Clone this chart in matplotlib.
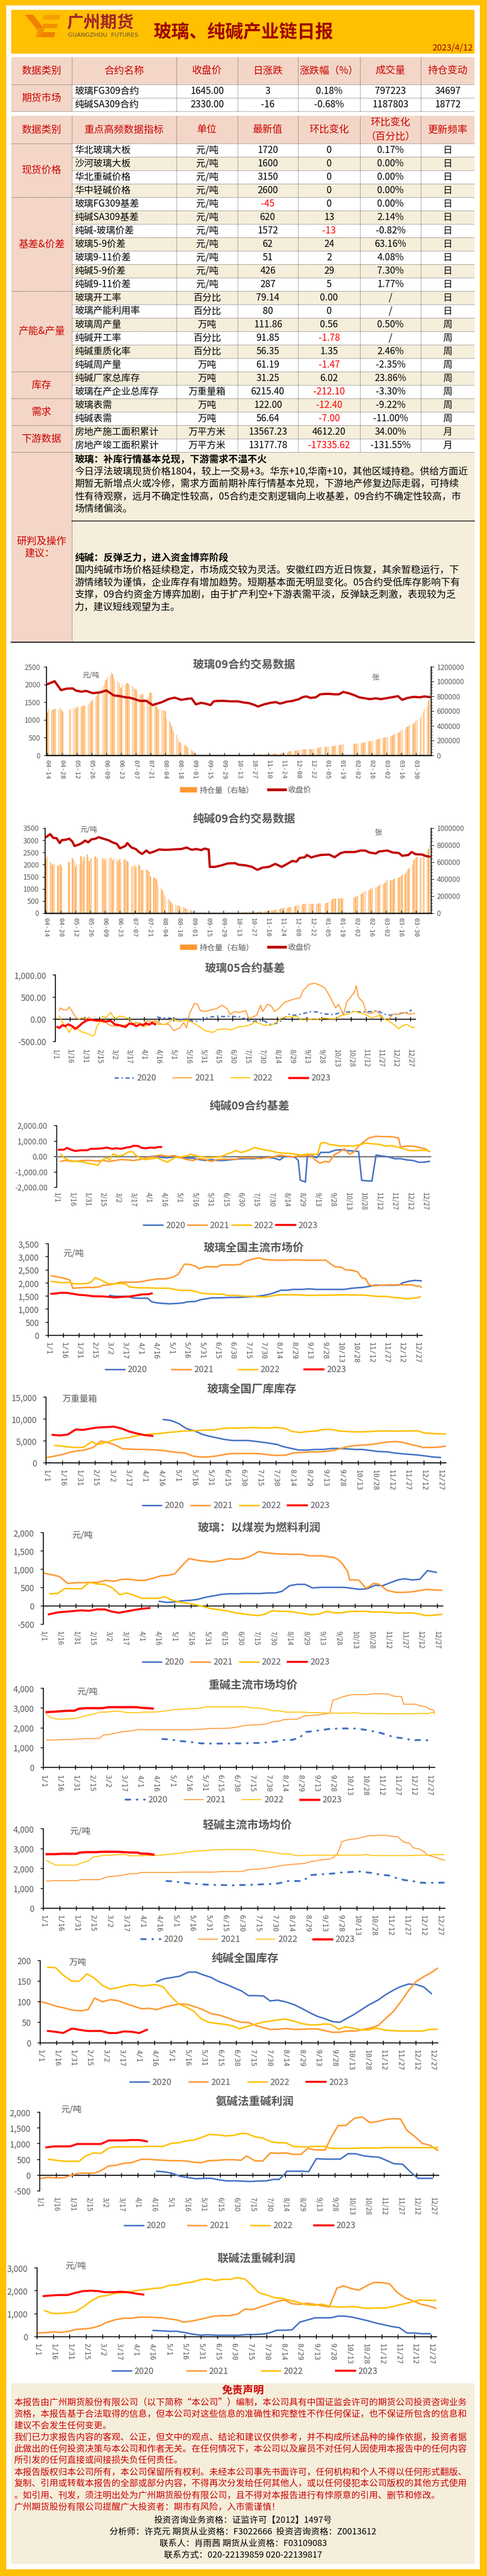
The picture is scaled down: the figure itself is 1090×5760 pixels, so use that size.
#coding:utf-8
# Glass / soda ash daily report page: header, two tables, commentary, twelve charts, disclaimer.

import numpy as np
import pandas as pd
import matplotlib
matplotlib.use('Agg')
import matplotlib.pyplot as plt
from matplotlib.patches import Rectangle, Polygon, Patch
from matplotlib.lines import Line2D
from matplotlib.ticker import FuncFormatter, MultipleLocator

plt.rcParams['font.family'] = ['Noto Sans CJK SC', 'DejaVu Sans']
plt.rcParams['axes.unicode_minus'] = False

W, H = 1090, 5760

# ---------------- colours
YELLOW = '#FFC000'
BEIGE = '#F5EEDB'
PINK = '#F3D6C7'
HEAD_RED = '#CC0000'
NEG_RED = '#FF0000'
GRAY = '#595959'
BLUE = '#4472C4'
ORANGE = '#FF9933'
GOLD = '#FFC000'
RED = '#FF0000'
DARKRED = '#C00000'

# ---------------- header / tables
REPORT_TITLE = '玻璃、纯碱产业链日报'
REPORT_DATE = '2023/4/12'

T1_HEAD = ['数据类别', '合约名称', '收盘价', '日涨跌', '涨跌幅（%）', '成交量', '持仓变动']
T1_CAT = '期货市场'
T1_ROWS = [['玻璃FG309合约', '1645.00', '3', '0.18%', '797223', '34697'],
           ['纯碱SA309合约', '2330.00', '-16', '-0.68%', '1187803', '18772']]

T2_HEAD = ['数据类别', '重点高频数据指标', '单位', '最新值', '环比变化', '环比变化\n（百分比）', '更新频率']
T2_CATS = [('现货价格', 4), ('基差&价差', 7), ('产能&产量', 6), ('库存', 2), ('需求', 2), ('下游数据', 2)]
T2_ROWS = [
    ['华北玻璃大板', '元/吨', '1720', '0', '0.17%', '日'],
    ['沙河玻璃大板', '元/吨', '1600', '0', '0.00%', '日'],
    ['华北重碱价格', '元/吨', '3150', '0', '0.00%', '日'],
    ['华中轻碱价格', '元/吨', '2600', '0', '0.00%', '日'],
    ['玻璃FG309基差', '元/吨', '-45', '0', '0.00%', '日'],
    ['纯碱SA309基差', '元/吨', '620', '13', '2.14%', '日'],
    ['纯碱-玻璃价差', '元/吨', '1572', '-13', '-0.82%', '日'],
    ['玻璃5-9价差', '元/吨', '62', '24', '63.16%', '日'],
    ['玻璃9-11价差', '元/吨', '51', '2', '4.08%', '日'],
    ['纯碱5-9价差', '元/吨', '426', '29', '7.30%', '日'],
    ['纯碱9-11价差', '元/吨', '287', '5', '1.77%', '日'],
    ['玻璃开工率', '百分比', '79.14', '0.00', '/', '日'],
    ['玻璃产能利用率', '百分比', '80', '0', '/', '日'],
    ['玻璃周产量', '万吨', '111.86', '0.56', '0.50%', '周'],
    ['纯碱开工率', '百分比', '91.85', '-1.78', '/', '周'],
    ['纯碱重质化率', '百分比', '56.35', '1.35', '2.46%', '周'],
    ['纯碱周产量', '万吨', '61.19', '-1.47', '-2.35%', '周'],
    ['纯碱厂家总库存', '万吨', '31.25', '6.02', '23.86%', '周'],
    ['玻璃在产企业总库存', '万重量箱', '6215.40', '-212.10', '-3.30%', '周'],
    ['玻璃表需', '万吨', '122.00', '-12.40', '-9.22%', '周'],
    ['纯碱表需', '万吨', '56.64', '-7.00', '-11.00%', '周'],
    ['房地产施工面积累计', '万平方米', '13567.23', '4612.20', '34.00%', '月'],
    ['房地产竣工面积累计', '万平方米', '13177.78', '-17335.62', '-131.55%', '月'],
]

GLASS_TITLE = '玻璃：补库行情基本兑现，下游需求不温不火'
GLASS_LINES = ['今日浮法玻璃现货价格1804，较上一交易+3。华东+10,华南+10，其他区域持稳。供给方面近',
               '期暂无新增点火或冷修，需求方面前期补库行情基本兑现，下游地产修复边际走弱，可持续',
               '性有待观察，远月不确定性较高，05合约走交割逻辑向上收基差，09合约不确定性较高，市',
               '场情绪偏淡。']
SODA_TITLE = '纯碱：反弹乏力，进入资金博弈阶段'
SODA_LINES = ['国内纯碱市场价格延续稳定，市场成交较为灵活。安徽红四方近日恢复，其余暂稳运行，下',
              '游情绪较为谨慎，企业库存有增加趋势。短期基本面无明显变化。05合约受低库存影响下有',
              '支撑，09合约资金方博弈加剧，由于扩产利空+下游表需平淡，反弹缺乏刺激，表现较为乏',
              '力，建议短线观望为主。']

DISCLAIMER = ['本报告由广州期货股份有限公司（以下简称“本公司”）编制，本公司具有中国证监会许可的期货公司投资咨询业务',
              '资格，本报告基于合法取得的信息，但本公司对这些信息的准确性和完整性不作任何保证，也不保证所包含的信息和',
              '建议不会发生任何变更。',
              '我们已力求报告内容的客观、公正，但文中的观点、结论和建议仅供参考，并不构成所述品种的操作依据，投资者据',
              '此做出的任何投资决策与本公司和作者无关。在任何情况下，本公司以及雇员不对任何人因使用本报告中的任何内容',
              '所引发的任何直接或间接损失负任何责任。',
              '本报告版权归本公司所有，本公司保留所有权利。未经本公司事先书面许可，任何机构和个人不得以任何形式翻版、',
              '复制、引用或转载本报告的全部或部分内容，不得再次分发给任何其他人，或以任何侵犯本公司版权的其他方式使用',
              '。如引用、刊发，须注明出处为广州期货股份有限公司，且不得对本报告进行有悖原意的引用、删节和修改。',
              '广州期货股份有限公司提醒广大投资者：期市有风险，入市需谨慎！']
FOOTER = ['投资咨询业务资格：证监许可【2012】1497号',
          '分析师：许克元 期货从业资格：F3022666  投资咨询资格：Z0013612',
          '联系人：肖雨茜 期货从业资格：F03109083',
          '联系方式：020-22139859 020-22139817']

# ---------------- 09 contract charts (x = days after 2022-04-14)
BASE = pd.Timestamp('2022-04-14')
HOLIDAYS = pd.to_datetime(['2022-05-02', '2022-05-03', '2022-05-04', '2022-06-03', '2022-09-12',
                           '2022-10-03', '2022-10-04', '2022-10-05', '2022-10-06', '2022-10-07',
                           '2023-01-02', '2023-01-23', '2023-01-24', '2023-01-25', '2023-01-26',
                           '2023-01-27', '2023-04-05'])
MONTHS = ['2022-04', '2022-05', '2022-06', '2022-07', '2022-08', '2022-09', '2022-10',
          '2022-11', '2022-12', '2023-01', '2023-02', '2023-03', '2023-04']

GLASS09_PRICE = [(0, 2008), (7, 2092), (13, 1840), (18, 1882), (24, 1891), (27, 1832), (32, 1798), (37, 1819),
                 (43, 1756), (50, 1777), (56, 1832), (60, 1756), (63, 1693), (69, 1672), (74, 1639), (78, 1630),
                 (82, 1597), (88, 1538), (94, 1538), (100, 1420), (109, 1504), (115, 1588), (121, 1630),
                 (127, 1567), (133, 1597), (137, 1609), (141, 1441), (146, 1483), (150, 1462), (155, 1420),
                 (158, 1525), (162, 1538), (168, 1538), (174, 1525), (181, 1525), (186, 1496), (192, 1471),
                 (197, 1420), (200, 1378), (206, 1441), (212, 1483), (217, 1504), (221, 1462), (224, 1483),
                 (227, 1513), (233, 1538), (239, 1588), (242, 1639), (246, 1664), (250, 1622), (255, 1639),
                 (259, 1723), (264, 1735), (268, 1735), (273, 1723), (277, 1723), (281, 1790), (286, 1756),
                 (292, 1693), (296, 1639), (302, 1609), (306, 1588), (312, 1609), (317, 1588), (321, 1609),
                 (327, 1639), (333, 1672), (337, 1567), (342, 1622), (348, 1651), (354, 1639), (358, 1664),
                 (363, 1645)]
# open interest, thousand lots, one value per trading day, one row per month
GLASS09_OI = [
    [581, 631, 611, 617, 625, 629, 629, 625, 641, 621, 605, 585],
    [621, 631, 640, 625, 660, 640, 665, 662, 668, 672, 676, 672, 682, 700, 730, 742, 760, 793, 803],
    [863, 873, 934, 964, 1014, 1024, 1065, 1085, 1129, 1095, 1049, 1014, 1004, 984, 934, 914, 964, 954, 974, 980, 964],
    [964, 944, 924, 903, 893, 883, 833, 803, 833, 823, 772, 772, 803, 843, 853, 843, 722, 682, 662, 631, 625],
    [621, 611, 601, 601, 500, 470, 440, 399, 349, 319, 278, 218, 177, 182, 147, 137, 133, 127, 107, 97, 77, 56, 36],
    [32, 20, 10, 6, 4, 3, 2, 2, 1, 1, 1, 1, 1, 1, 1, 1, 1, 1, 1, 1, 1],
    [0, 0, 0, 0, 0, 0, 0, 0, 0, 1, 2, 6, 12, 12, 13, 14],
    [15, 15, 16, 17, 18, 18, 19, 20, 20, 21, 22, 23, 24, 24, 25, 26, 30, 34, 38, 45, 52, 56],
    [56, 58, 62, 65, 68, 72, 75, 78, 80, 80, 82, 82, 82, 82, 84, 86, 90, 95, 100, 105, 110, 113],
    [113, 116, 118, 120, 121, 125, 128, 130, 133, 138, 140, 143, 147, 151, 153, 157],
    [158, 160, 162, 166, 170, 172, 175, 178, 185, 190, 195, 200, 203, 208, 212, 218, 222, 228, 235, 240],
    [244, 248, 255, 262, 268, 274, 280, 288, 296, 310, 319, 333, 349, 360, 379, 390, 399, 410, 420, 430, 440, 470, 480],
    [500, 531, 580, 630, 661, 742, 853],
]

SODA09_PRICE = [(0, 3133), (4, 3256), (7, 3103), (10, 3091), (13, 2889), (15, 3011), (19, 3029), (22, 3072),
                (25, 2950), (27, 2766), (31, 2827), (34, 2889), (37, 2993), (40, 2919), (43, 3042), (47, 3072),
                (50, 3133), (54, 3072), (59, 3011), (63, 2919), (67, 2858), (70, 2674), (75, 2766), (77, 2889),
                (81, 2705), (85, 2644), (88, 2521), (91, 2442), (95, 2583), (98, 2479), (103, 2552), (107, 2625),
                (111, 2613), (116, 2613), (122, 2632), (128, 2644), (133, 2705), (138, 2613), (142, 2644),
                (147, 2601), (150, 2662), (154, 2625), (155, 1909), (160, 1909), (166, 1971), (172, 2050),
                (179, 2062), (182, 2001), (189, 1971), (195, 1909), (200, 1787), (205, 1879), (211, 1909),
                (217, 2032), (223, 1909), (227, 2001), (233, 2154), (237, 2124), (240, 2277), (245, 2307),
                (247, 2399), (251, 2295), (254, 2338), (260, 2399), (268, 2417), (273, 2307), (279, 2479),
                (283, 2521), (292, 2521), (298, 2583), (302, 2583), (306, 2503), (312, 2460), (315, 2540),
                (323, 2583), (328, 2503), (334, 2479), (337, 2368), (343, 2399), (346, 2521), (350, 2430),
                (356, 2417), (360, 2350), (363, 2330)]
SODA09_OI = [
    [642, 673, 598, 589, 575, 568, 583, 558, 562, 572, 575, 540],
    [603, 600, 645, 630, 607, 545, 580, 580, 673, 647, 610, 663, 691, 659, 615, 640, 650, 662, 668],
    [640, 655, 650, 640, 630, 620, 655, 645, 660, 650, 620, 648, 635, 610, 625, 640, 605, 630, 645, 620, 610],
    [607, 545, 554, 551, 572, 545, 568, 563, 510, 505, 510, 515, 505, 493, 484, 432, 423, 414, 406, 397, 330],
    [300, 274, 250, 213, 190, 170, 152, 135, 117, 110, 100, 95, 91, 85, 80, 72, 65, 58, 50, 45, 38, 28, 21],
    [16, 10, 6, 4, 3, 2, 2, 1, 1, 1, 1, 1, 1, 1, 1, 1, 1, 1, 1, 1, 1],
    [1, 1, 1, 1, 1, 8, 10, 12, 12, 12, 12, 12, 13, 14, 15, 17],
    [18, 20, 21, 22, 24, 26, 28, 30, 30, 32, 34, 38, 42, 44, 48, 52, 56, 58, 61, 65, 68, 70],
    [73, 75, 80, 85, 90, 96, 98, 100, 104, 108, 108, 108, 108, 108, 108, 108, 108, 110, 112, 114, 116, 117],
    [117, 120, 122, 126, 150, 170, 172, 175, 175, 175, 175, 175, 175, 175, 180, 187],
    [195, 205, 213, 222, 231, 240, 250, 258, 266, 275, 285, 292, 298, 303, 309, 315, 325, 335, 344, 350],
    [360, 375, 388, 388, 388, 392, 400, 408, 414, 420, 428, 441, 452, 465, 484, 500, 520, 537, 580, 624, 640, 659, 665],
    [650, 660, 677, 700, 729, 760, 799],
]

# ---------------- seasonal charts (x = day of year)
G05_2020 = [(103, 53), (108, 33), (114, 33), (120, 12), (126, -8), (133, 12), (138, -29), (142, -49), (147, -8),
            (152, 33), (158, 53), (164, 74), (171, 61), (177, 74), (183, 61), (189, 45), (194, -8), (199, -49),
            (205, -29), (211, -29), (218, -111), (224, -90), (229, -29), (232, 33), (237, 115), (241, 94),
            (246, 102), (252, 135), (259, 176), (265, 168), (271, 127), (278, 115), (282, 102), (287, 143),
            (293, 156), (300, 176), (306, 168), (312, 168), (320, 176), (326, 197), (334, 115), (340, 94),
            (347, 127), (353, 143), (358, 156), (361, 217)]
G05_2021 = [(4, 197), (5, 258), (8, 217), (12, 217), (14, 279), (16, 217), (21, 33), (24, 4), (27, 33), (31, 4),
            (34, 53), (38, -29), (45, -49), (51, -70), (56, -143), (62, -152), (70, -131), (76, -111), (82, -70),
            (89, -111), (93, -29), (98, -49), (101, -29), (108, -111), (115, -111), (120, -254), (126, -193),
            (130, -70), (133, -193), (136, 135), (141, 361), (144, 340), (147, 197), (152, 176), (158, 217),
            (163, 238), (169, 320), (174, 238), (177, 115), (182, 176), (186, 156), (193, 197), (196, 12),
            (200, 53), (204, 94), (208, 320), (210, 176), (215, 340), (219, 299), (222, 176), (227, 258),
            (232, 381), (237, 422), (243, 463), (248, 484), (251, 647), (257, 791), (263, 811), (268, 770),
            (273, 709), (278, 525), (284, 258), (287, 340), (292, 94), (295, 381), (300, 525), (303, 606),
            (305, 758), (307, 504), (312, 381), (315, 156), (320, 135), (325, 197), (328, 135), (333, 12),
            (337, -20), (342, 115), (348, 115), (353, 156), (359, 115), (364, 135)]
G05_2022 = [(4, 74), (7, -70), (12, -213), (14, -295), (18, -152), (21, -193), (26, -275), (32, -316), (38, -377),
            (40, -336), (42, -152), (45, -70), (48, 74), (51, 33), (56, 156), (60, 12), (65, 74), (70, 53),
            (75, 12), (79, -111), (84, -70), (89, -172), (93, -131), (100, -49), (104, -111), (111, -111),
            (115, -70), (119, 12), (125, -49), (130, -29), (134, -29), (139, -70), (145, -152), (152, -254),
            (160, -295), (164, -234), (171, -213), (178, -234), (185, -172), (193, -152), (199, -111),
            (202, -49), (207, -90), (211, -131), (219, -131), (224, -70), (229, 33), (233, 53), (240, 53),
            (244, 74), (249, -8), (256, -8), (260, 12), (265, 12), (268, -20), (271, 33), (278, 12), (284, 12),
            (290, 94), (296, 115), (303, 184), (309, 143), (314, 115), (320, 33), (328, 86), (333, 12),
            (339, -49), (344, -131), (348, -213), (351, -152), (356, -111), (359, -152), (362, -193), (364, -172)]
G05_2023 = [(2, -172), (4, -193), (7, -131), (10, -152), (13, -111), (17, -152), (20, -213), (23, -172), (27, -90),
            (32, -20), (37, -8), (42, -29), (46, -20), (51, -49), (56, -29), (60, -111), (65, -131), (68, -152),
            (71, -172), (75, -90), (79, -111), (82, -152), (86, -111), (89, -131), (92, -90), (95, -119),
            (98, -78), (101, -111)]

S09B_2020 = [(90, -23), (96, 35), (102, -58), (108, -81), (115, -23), (121, -81), (127, -105), (133, -105),
             (139, -198), (145, -256), (151, -198), (157, -256), (163, -256), (169, -221), (175, -174),
             (181, -140), (187, -140), (193, -140), (199, -81), (205, -58), (212, -105), (218, -221), (222, -23),
             (228, 12), (233, -58), (236, -256), (238, -1535), (243, -1651), (245, 151), (248, 93), (254, -81),
             (258, 267), (266, 267), (272, 407), (278, 442), (284, 384), (290, 360), (295, 326), (298, -1535),
             (302, -1570), (308, -1593), (312, 93), (318, 35), (324, -23), (330, -140), (336, -140), (342, -221),
             (348, -256), (354, -372), (358, -372), (364, -314)]
S09B_2021 = [(4, -314), (8, -256), (15, -314), (21, -291), (27, -256), (33, -256), (39, -291), (45, -256),
             (51, -314), (57, -256), (63, -198), (69, -221), (75, -256), (81, -198), (87, -81), (93, -23),
             (98, 58), (102, 93), (108, 12), (115, 58), (121, -81), (127, -198), (133, -256), (139, -140),
             (145, -198), (151, -314), (157, -198), (163, -174), (169, -174), (175, -174), (181, -58),
             (187, -105), (193, -81), (199, -140), (205, -81), (212, -23), (218, 93), (224, 35), (230, -23),
             (236, 35), (242, 35), (248, 93), (252, -198), (257, -430), (262, -314), (266, -372), (271, 93),
             (277, 326), (281, 500), (286, 151), (290, 267), (295, 674), (299, 907), (305, 1198), (312, 1314),
             (318, 1291), (324, 1291), (330, 1256), (334, 1198), (336, 616), (342, 674), (348, 674), (354, 593),
             (360, 500), (364, 326)]
S09B_2022 = [(4, 151), (7, -81), (12, -256), (18, -314), (24, -337), (30, -430), (36, -488), (40, -581),
             (43, -314), (48, -81), (52, -198), (55, 174), (60, 35), (65, 93), (69, 267), (74, 326), (77, 93),
             (83, -140), (87, -198), (93, -140), (98, -81), (102, -198), (108, -372), (115, -81), (121, -23),
             (127, 35), (131, 151), (137, 35), (142, -23), (148, -81), (154, -58), (160, -23), (166, 151),
             (171, 267), (175, 384), (180, 267), (184, 326), (189, 442), (193, 581), (198, 500), (202, 442),
             (208, 384), (215, 267), (221, 209), (227, 209), (233, 151), (239, 93), (245, 151), (251, 151),
             (255, 151), (258, 872), (262, 907), (266, 791), (272, 733), (278, 674), (284, 698), (290, 674),
             (296, 756), (302, 872), (308, 826), (315, 791), (321, 674), (327, 709), (333, 616), (339, 500),
             (345, 384), (351, 384), (357, 407), (363, 384)]
S09B_2023 = [(2, 442), (7, 442), (10, 558), (14, 442), (18, 360), (24, 407), (30, 407), (33, 500), (39, 500),
             (45, 535), (49, 581), (54, 500), (58, 535), (63, 500), (68, 581), (72, 616), (75, 698), (80, 674),
             (83, 558), (87, 535), (92, 581), (96, 558), (99, 616), (102, 616)]

GP_2020 = [(60, 1527), (65, 1496), (71, 1489), (77, 1496), (82, 1435), (88, 1420), (97, 1420), (101, 1283),
           (106, 1244), (112, 1221), (118, 1206), (126, 1221), (132, 1244), (136, 1283), (144, 1298), (148, 1359),
           (154, 1397), (160, 1435), (168, 1435), (177, 1450), (186, 1450), (195, 1473), (204, 1496), (210, 1527),
           (216, 1573), (222, 1649), (227, 1725), (233, 1725), (239, 1756), (248, 1756), (254, 1779), (262, 1756),
           (271, 1756), (280, 1756), (289, 1756), (295, 1794), (301, 1817), (307, 1832), (313, 1870), (319, 1916),
           (328, 1916), (336, 1916), (342, 1916), (346, 2008), (352, 2069), (358, 2099), (364, 2084)]
GP_2021 = [(3, 2275), (9, 2237), (15, 2183), (21, 2122), (24, 1802), (30, 1817), (36, 1832), (44, 1832),
           (50, 1855), (53, 1908), (59, 1931), (65, 1970), (70, 2031), (77, 2031), (86, 2031), (92, 2061),
           (98, 2107), (107, 2160), (115, 2160), (121, 2214), (127, 2336), (130, 2542), (133, 2718), (138, 2710),
           (144, 2641), (147, 2542), (153, 2618), (159, 2618), (165, 2618), (168, 2680), (177, 2695), (183, 2695),
           (188, 2718), (192, 2825), (197, 2886), (201, 2924), (206, 2962), (210, 2901), (216, 2886), (222, 2870),
           (231, 2870), (240, 2886), (250, 2870), (256, 2870), (262, 2870), (271, 2870), (275, 2748), (280, 2618),
           (286, 2603), (290, 2504), (296, 2489), (302, 2428), (306, 2199), (310, 2160), (313, 1931), (318, 1893),
           (325, 1916), (333, 1931), (340, 1931), (348, 1931), (355, 1931), (358, 1893), (363, 1878), (364, 1832)]
GP_2022 = [(3, 2061), (9, 2031), (15, 2008), (21, 2031), (24, 1970), (32, 1970), (38, 1985), (42, 2046),
           (46, 2199), (50, 2138), (54, 2061), (59, 1970), (65, 1970), (71, 1985), (76, 1954), (79, 1855),
           (83, 1832), (89, 1817), (98, 1817), (104, 1802), (118, 1802), (123, 1756), (129, 1718), (138, 1718),
           (144, 1679), (150, 1603), (159, 1588), (166, 1573), (171, 1573), (175, 1527), (183, 1527), (191, 1496),
           (198, 1496), (204, 1473), (213, 1473), (219, 1512), (225, 1550), (234, 1550), (243, 1550), (253, 1527),
           (262, 1534), (271, 1534), (280, 1542), (289, 1550), (298, 1542), (307, 1542), (315, 1512), (321, 1489),
           (330, 1489), (336, 1450), (343, 1435), (349, 1397), (355, 1420), (360, 1435), (363, 1473)]
GP_2023 = [(3, 1588), (8, 1603), (12, 1626), (18, 1626), (24, 1588), (30, 1550), (36, 1534), (44, 1496),
           (53, 1489), (59, 1473), (65, 1450), (73, 1473), (80, 1489), (86, 1527), (92, 1565), (98, 1573),
           (101, 1603)]

GI_2020 = [(107, 9895), (114, 9667), (121, 8983), (128, 7843), (136, 7250), (143, 6475), (150, 6019), (157, 5654),
           (163, 5335), (170, 5107), (177, 5107), (184, 5107), (189, 4970), (195, 4787), (202, 4559), (211, 4195),
           (216, 3739), (224, 3283), (231, 2918), (238, 2918), (245, 3055), (253, 3055), (261, 3283), (268, 3283),
           (275, 3192), (282, 3055), (289, 3055), (296, 2827), (303, 2599), (312, 2508), (317, 2280), (326, 2052),
           (333, 1915), (340, 1778), (347, 1550), (354, 1322), (360, 1231)]
GI_2021 = [(1, 1231), (8, 1550), (15, 1915), (23, 2508), (29, 2736), (35, 2918), (43, 3511), (50, 4970),
           (56, 4651), (62, 4195), (70, 3192), (77, 3146), (84, 3055), (91, 3055), (99, 2964), (106, 2827),
           (113, 2599), (120, 2371), (127, 2234), (134, 1550), (141, 1322), (148, 1368), (155, 1550), (163, 1915),
           (170, 2143), (177, 2143), (184, 2143), (191, 2143), (198, 2006), (205, 1778), (212, 1687), (219, 1778),
           (226, 2280), (234, 2371), (241, 2508), (248, 2508), (255, 2599), (262, 2827), (269, 3283), (276, 3739),
           (283, 3967), (290, 4058), (297, 4195), (305, 4514), (312, 4742), (319, 4879), (326, 4651), (333, 4195),
           (340, 3830), (344, 3511), (351, 3511), (359, 3602), (365, 3830)]
GI_2022 = [(8, 3967), (13, 3876), (20, 3648), (28, 3511), (34, 3511), (42, 4879), (47, 4195), (55, 4651),
           (62, 5244), (69, 5563), (76, 5791), (83, 6247), (90, 6384), (97, 6612), (104, 6703), (111, 6931),
           (118, 7068), (126, 7296), (134, 7296), (140, 7387), (147, 7524), (154, 7524), (161, 7843), (168, 7934),
           (175, 7934), (182, 7980), (189, 8071), (197, 7980), (204, 7980), (211, 8071), (218, 7843), (225, 7159),
           (232, 6931), (239, 7159), (246, 7250), (253, 7615), (261, 7615), (268, 7250), (275, 7159), (282, 7068),
           (289, 7068), (296, 7159), (303, 7250), (310, 7296), (317, 7250), (324, 7250), (332, 7296), (339, 7296),
           (346, 6794), (353, 6703), (360, 6612), (365, 6612)]
GI_2023 = [(6, 6384), (13, 6247), (20, 6475), (27, 7615), (34, 7524), (41, 7843), (47, 8071), (55, 8162),
           (62, 8254), (69, 7843), (76, 7159), (83, 6703), (90, 6338), (97, 6156)]

GC_2020 = [(106, 126), (113, 98), (120, 109), (127, 142), (134, 153), (141, 180), (148, 235), (155, 273), (163, 317),
           (170, 333), (177, 333), (184, 339), (191, 339), (198, 339), (205, 355), (212, 355), (218, 399), (225, 552),
           (232, 590), (239, 590), (246, 492), (253, 508), (261, 508), (268, 508), (275, 508), (282, 481), (289, 454),
           (296, 470), (303, 563), (310, 552), (317, 634), (324, 710), (330, 743), (337, 710), (344, 727), (351, 962),
           (359, 918)]
GC_2021 = [(1, 891), (8, 852), (15, 798), (22, 617), (29, 634), (36, 634), (43, 645), (50, 645), (57, 699), (64, 672),
           (72, 727), (79, 727), (86, 699), (93, 699), (100, 754), (107, 820), (114, 836), (120, 874), (127, 1109),
           (133, 1290), (141, 1246), (148, 1218), (155, 1202), (162, 1235), (170, 1290), (177, 1273), (184, 1300),
           (189, 1355), (197, 1484), (204, 1446), (215, 1419), (226, 1409), (236, 1409), (243, 1366), (255, 1366),
           (261, 1339), (265, 1328), (269, 1273), (273, 1164), (278, 945), (280, 710), (288, 710), (295, 481),
           (302, 617), (307, 590), (314, 426), (322, 372), (329, 372), (336, 382), (343, 415), (350, 454), (357, 437),
           (364, 426)]
GC_2022 = [(6, 328), (13, 344), (20, 481), (28, 470), (35, 470), (42, 645), (49, 601), (56, 590), (63, 492), (70, 306),
           (76, 355), (83, 290), (90, 208), (97, 208), (104, 208), (111, 251), (118, 153), (126, 98), (133, 71),
           (140, 27), (147, -22), (154, -76), (161, -104), (168, -131), (175, -186), (182, -213), (189, -240),
           (196, -262), (202, -229), (209, -131), (216, -148), (224, -148), (231, -175), (239, -213), (245, -240),
           (252, -219), (259, -148), (266, -186), (273, -186), (280, -148), (288, -148), (295, -148), (302, -164),
           (309, -164), (316, -175), (323, -191), (329, -191), (336, -186), (343, -219), (350, -262), (357, -251),
           (364, -229)]
GC_2023 = [(5, -229), (13, -175), (20, -158), (28, -137), (34, -120), (42, -131), (49, -93), (56, -93), (62, -148),
           (69, -186), (76, -148), (83, -109), (90, -76), (97, -55)]

HS_2020 = [(111, 1437), (119, 1407), (126, 1337), (134, 1306), (140, 1266), (147, 1216), (156, 1206), (163, 1206),
           (172, 1206), (179, 1216), (187, 1216), (194, 1236), (202, 1236), (208, 1266), (217, 1306), (223, 1387),
           (231, 1387), (239, 1487), (244, 1789), (252, 1829), (259, 1889), (266, 1940), (273, 1960), (281, 1970),
           (289, 1970), (295, 1940), (302, 1889), (309, 1809), (315, 1739), (322, 1608), (330, 1508), (337, 1467),
           (344, 1367), (351, 1387), (359, 1367)]
HS_2021 = [(3, 1387), (10, 1387), (17, 1407), (25, 1407), (32, 1437), (39, 1457), (46, 1457), (52, 1467), (56, 1638),
           (61, 1658), (65, 1708), (71, 1769), (75, 1809), (81, 1839), (88, 1909), (95, 1909), (104, 1909),
           (113, 1909), (121, 1909), (130, 1909), (139, 1909), (147, 1930), (156, 1970), (165, 1970), (174, 1990),
           (181, 2040), (187, 2111), (194, 2141), (201, 2161), (208, 2191), (214, 2312), (220, 2342), (224, 2412),
           (231, 2432), (237, 2442), (243, 2593), (249, 2623), (254, 2643), (262, 2693), (267, 2744), (270, 3397),
           (275, 3477), (279, 3568), (283, 3618), (288, 3678), (295, 3678), (302, 3678), (307, 3719), (314, 3719),
           (321, 3719), (327, 3598), (334, 3578), (336, 3196), (341, 3196), (347, 3196), (351, 3116), (356, 3075),
           (360, 2945), (364, 2894), (365, 2693)]
HS_2022 = [(3, 2693), (6, 2543), (12, 2442), (20, 2442), (29, 2472), (35, 2543), (42, 2643), (48, 2714), (53, 2794),
           (59, 2794), (67, 2844), (74, 2814), (78, 2764), (87, 2764), (93, 2794), (101, 2794), (108, 2814),
           (116, 2874), (121, 2915), (130, 2945), (137, 2965), (146, 2995), (153, 3065), (162, 3065), (171, 3065),
           (179, 3065), (188, 3065), (194, 3015), (202, 2995), (208, 2945), (214, 2864), (220, 2864), (226, 2794),
           (234, 2794), (243, 2794), (249, 2764), (257, 2764), (266, 2744), (275, 2744), (283, 2744), (292, 2764),
           (296, 2724), (307, 2724), (315, 2714), (324, 2714), (335, 2714), (344, 2714), (350, 2724), (359, 2724),
           (363, 2794), (365, 2744)]
HS_2023 = [(3, 2794), (10, 2814), (17, 2844), (23, 2864), (29, 2864), (33, 2965), (40, 2995), (48, 2995),
           (55, 2995), (61, 3045), (68, 3045), (75, 3045), (82, 3045), (87, 3045), (91, 3015), (97, 2995),
           (102, 2975)]

LS_2020 = [(112, 1370), (119, 1350), (127, 1290), (134, 1240), (141, 1220), (148, 1190), (157, 1170), (164, 1170),
           (171, 1150), (178, 1170), (185, 1170), (192, 1190), (201, 1210), (209, 1220), (215, 1270), (222, 1370),
           (229, 1370), (236, 1370), (243, 1670), (249, 1690), (256, 1720), (264, 1750), (271, 1800), (278, 1820),
           (287, 1850), (292, 1820), (299, 1770), (306, 1690), (314, 1650), (321, 1520), (328, 1420), (335, 1370),
           (343, 1290), (350, 1270), (356, 1290), (365, 1290)]
LS_2021 = [(3, 1370), (10, 1390), (17, 1390), (24, 1390), (31, 1390), (34, 1440), (42, 1440), (51, 1440), (55, 1520),
           (59, 1590), (66, 1620), (73, 1670), (78, 1740), (85, 1740), (89, 1800), (99, 1800), (110, 1800),
           (121, 1800), (127, 1820), (136, 1820), (144, 1820), (153, 1820), (161, 1840), (169, 1850), (181, 1850),
           (186, 1940), (195, 1970), (203, 2020), (209, 2070), (215, 2140), (220, 2170), (229, 2220), (237, 2250),
           (243, 2340), (249, 2400), (254, 2440), (260, 2470), (264, 2570), (267, 2720), (270, 3120), (271, 3340),
           (275, 3420), (280, 3470), (285, 3500), (290, 3570), (295, 3640), (299, 3640), (305, 3670), (311, 3670),
           (316, 3620), (322, 3600), (325, 3440), (328, 3320), (333, 3270), (336, 3040), (342, 2970), (346, 2840),
           (349, 2670), (355, 2590), (360, 2500), (365, 2400)]
LS_2022 = [(3, 2400), (6, 2320), (11, 2170), (20, 2170), (30, 2170), (34, 2270), (41, 2370), (45, 2570), (51, 2620),
           (54, 2670), (62, 2670), (69, 2700), (75, 2700), (78, 2640), (85, 2640), (92, 2650), (99, 2650),
           (107, 2670), (114, 2720), (121, 2750), (130, 2820), (138, 2870), (147, 2900), (155, 2940), (164, 2950),
           (172, 2950), (181, 2950), (189, 2950), (195, 2900), (203, 2850), (209, 2800), (216, 2740), (225, 2720),
           (229, 2650), (237, 2650), (246, 2670), (254, 2670), (263, 2670), (271, 2670), (280, 2670), (288, 2670),
           (294, 2700), (299, 2650), (311, 2650), (322, 2650), (333, 2650), (342, 2670), (350, 2670), (356, 2700),
           (364, 2700)]
LS_2023 = [(3, 2720), (10, 2720), (17, 2740), (24, 2740), (30, 2740), (33, 2800), (40, 2820), (47, 2820),
           (54, 2840), (61, 2840), (68, 2840), (73, 2820), (81, 2800), (86, 2800), (88, 2750), (95, 2740),
           (100, 2700)]

SI_2020 = [(107, 149), (114, 156), (121, 159), (128, 162), (136, 172), (143, 172), (150, 165), (157, 159), (164, 149),
           (171, 142), (178, 134), (185, 126), (191, 115), (198, 115), (205, 114), (211, 102), (218, 104), (225, 100),
           (233, 93), (240, 84), (247, 74), (254, 65), (261, 59), (268, 52), (275, 50), (281, 59), (288, 69),
           (295, 81), (302, 93), (310, 104), (317, 117), (324, 128), (331, 137), (338, 143), (345, 142), (352, 136),
           (359, 120)]
SI_2021 = [(1, 100), (8, 95), (15, 89), (22, 85), (29, 80), (37, 78), (44, 81), (50, 109), (57, 100), (64, 105),
           (71, 103), (78, 96), (86, 89), (93, 83), (100, 84), (107, 81), (114, 87), (121, 91), (128, 95), (136, 93),
           (143, 87), (150, 80), (157, 71), (164, 68), (171, 62), (178, 55), (185, 50), (191, 50), (198, 42),
           (205, 37), (211, 33), (218, 33), (225, 35), (233, 33), (240, 33), (247, 34), (254, 34), (261, 30),
           (268, 26), (275, 26), (282, 29), (290, 29), (297, 33), (304, 37), (310, 42), (317, 59), (324, 76),
           (331, 100), (338, 127), (345, 149), (352, 161), (359, 171), (365, 182)]
SI_2022 = [(7, 184), (14, 183), (21, 165), (29, 150), (36, 150), (43, 168), (50, 157), (57, 140), (64, 131),
           (71, 134), (78, 139), (86, 142), (93, 138), (100, 140), (106, 142), (113, 136), (120, 113), (127, 95),
           (134, 87), (141, 77), (148, 58), (155, 50), (163, 47), (170, 45), (177, 41), (183, 34), (190, 40),
           (197, 45), (204, 50), (211, 53), (218, 56), (225, 58), (233, 53), (240, 47), (247, 44), (254, 44),
           (261, 46), (267, 45), (274, 33), (280, 39), (287, 36), (294, 32), (301, 31), (308, 36), (315, 32),
           (322, 30), (330, 29), (337, 29), (344, 29), (351, 29), (358, 33), (365, 33)]
SI_2023 = [(7, 29), (14, 27), (21, 24), (29, 35), (36, 32), (43, 29), (50, 29), (56, 29), (63, 24), (70, 24),
           (77, 28), (84, 27), (91, 24), (98, 32)]

AP_2020 = [(107, 126), (114, 107), (121, 63), (128, -32), (134, -67), (143, -113), (150, -100), (157, -100),
           (164, -147), (171, -180), (178, -180), (185, -187), (192, -200), (199, -187), (207, -180), (214, -133),
           (219, -133), (224, 33), (226, 126), (234, 126), (241, 126), (246, 114), (253, 524), (261, 511),
           (268, 511), (275, 511), (282, 681), (289, 681), (296, 618), (303, 587), (310, 574), (317, 473),
           (324, 366), (332, 347), (339, 107), (346, -100), (353, -100), (359, -100)]
AP_2021 = [(1, -100), (8, -67), (15, -87), (22, -80), (29, 0), (36, 63), (43, 63), (50, 63), (56, 145), (63, 297),
           (70, 315), (77, 379), (84, 398), (93, 505), (100, 505), (107, 486), (114, 473), (121, 461), (128, 461),
           (136, 442), (141, 410), (148, 398), (154, 461), (163, 473), (170, 492), (177, 492), (184, 473), (189, 612),
           (197, 454), (204, 454), (211, 707), (218, 694), (225, 707), (232, 663), (239, 663), (245, 852), (252, 801),
           (261, 801), (267, 1230), (273, 1578), (280, 1578), (288, 1811), (295, 1849), (302, 1672), (309, 1704),
           (316, 1767), (323, 1798), (330, 1786), (336, 1420), (343, 1230), (350, 1010), (357, 947), (364, 789)]
AP_2022 = [(8, 505), (15, 473), (22, 442), (29, 442), (36, 442), (42, 612), (49, 707), (56, 694), (63, 864), (70, 902),
           (77, 902), (84, 902), (91, 902), (99, 915), (106, 915), (113, 915), (120, 1010), (127, 1029), (134, 1092),
           (141, 1117), (148, 1199), (155, 1294), (163, 1281), (170, 1249), (177, 1262), (184, 1325), (189, 1325),
           (197, 1218), (204, 1180), (211, 1073), (218, 1029), (225, 1029), (232, 915), (239, 902), (246, 902),
           (253, 915), (261, 915), (266, 852), (273, 852), (280, 852), (288, 852), (295, 864), (302, 864), (309, 864),
           (316, 877), (323, 877), (330, 877), (337, 877), (344, 877), (351, 877), (359, 877), (364, 877)]
AP_2023 = [(6, 883), (13, 915), (20, 915), (28, 915), (34, 991), (42, 991), (49, 991), (56, 991), (63, 1104),
           (70, 1104), (77, 1104), (84, 1117), (91, 1117), (98, 1073)]

JP_2020 = [(106, 274), (114, 256), (121, 237), (128, 237), (135, 180), (142, 114), (149, 66), (156, 85), (163, 66),
           (170, 66), (177, 66), (185, 66), (192, 95), (199, 95), (206, 114), (212, 161), (219, 284), (226, 284),
           (233, 303), (240, 634), (247, 729), (254, 823), (261, 823), (268, 823), (275, 899), (281, 899), (288, 852),
           (295, 776), (302, 700), (309, 606), (318, 511), (324, 445), (331, 397), (338, 161), (345, 161), (352, 132),
           (359, 132)]
JP_2021 = [(1, 161), (8, 180), (15, 208), (22, 189), (29, 237), (36, 322), (43, 341), (50, 379), (57, 473), (64, 634),
           (72, 748), (79, 804), (86, 804), (93, 852), (100, 852), (107, 842), (114, 823), (121, 776), (128, 729),
           (134, 634), (141, 681), (148, 748), (155, 823), (162, 899), (169, 918), (176, 918), (183, 984), (190, 1202),
           (197, 1183), (204, 1297), (212, 1420), (219, 1533), (226, 1599), (233, 1439), (240, 1410), (247, 1457),
           (254, 1410), (261, 1344), (267, 1297), (274, 2120), (280, 2215), (287, 2101), (294, 2025), (301, 2215),
           (308, 2366), (315, 2357), (322, 2309), (329, 1931), (336, 1703), (344, 1552), (351, 1410), (358, 1344),
           (365, 1230)]
JP_2022 = [(7, 1136), (14, 1013), (21, 1013), (28, 1041), (35, 1088), (43, 1325), (50, 1580), (57, 1751), (64, 1798),
           (71, 1893), (78, 1912), (85, 1959), (92, 2025), (99, 2054), (106, 2101), (114, 2129), (121, 2243),
           (128, 2262), (135, 2338), (142, 2385), (149, 2480), (155, 2527), (162, 2451), (169, 2498), (176, 2498),
           (183, 2574), (190, 2508), (196, 2243), (203, 1912), (210, 1817), (217, 1703), (224, 1675), (231, 1580),
           (238, 1514), (246, 1391), (253, 1372), (260, 1420), (267, 1325), (274, 1297), (281, 1297), (288, 1316),
           (295, 1278), (302, 1230), (309, 1249), (317, 1249), (324, 1297), (331, 1391), (336, 1439), (344, 1533),
           (351, 1609), (358, 1580), (365, 1580)]
JP_2023 = [(6, 1770), (13, 1798), (20, 1817), (28, 1817), (35, 1912), (42, 1987), (49, 2006), (56, 1987), (62, 1940),
           (69, 1940), (76, 1959), (83, 1940), (90, 1883), (97, 1836)]

YEARS = [2020, 2021, 2022, 2023]

# ---------------- figure and page background (pixel coordinates, y downward)
fig = plt.figure(figsize=(W / 100, H / 100), dpi=100)
bg = fig.add_axes([0, 0, 1, 1], zorder=0)
bg.set_xlim(0, W)
bg.set_ylim(H, 0)
bg.axis('off')


def rect_px(l, t, r, b):
    return [l / W, 1 - b / H, (r - l) / W, (b - t) / H]


def box(x0, y0, x1, y1, color, z=0):
    bg.add_patch(Rectangle((x0, y0), x1 - x0, y1 - y0, facecolor=color, edgecolor='none', zorder=z))


def txt(x, y, s, size=15, color='black', ha='center', weight='normal', **kw):
    bg.text(x, y, s, fontsize=size, color=color, ha=ha, va='center', fontweight=weight, zorder=5, **kw)


DOT = (0, (1, 1.4))


def dotted_h(y, x0, x1):
    bg.plot([x0, x1], [y, y], color='#222222', lw=0.8, ls=DOT, zorder=3)


def dotted_v(x, y0, y1):
    bg.plot([x, x], [y0, y1], color='#222222', lw=0.8, ls=DOT, zorder=3)


box(0, 0, W, H, YELLOW)
box(14, 12, 1074, 5745, 'white')

# header band
box(25, 22, 1062, 120, YELLOW)
for poly, col in [([(56, 33), (74, 33), (97, 62), (86, 70)], '#F07F00'),
                  ([(86, 62), (100, 62), (94, 83), (80, 83)], '#F39200'),
                  ([(99, 33), (136, 33), (132, 44), (95, 44)], '#F5A000'),
                  ([(97, 53), (130, 53), (127, 63), (94, 63)], '#F39200'),
                  ([(93, 72), (124, 72), (121, 83), (90, 83)], '#F08000')]:
    bg.add_patch(Polygon(poly, closed=True, facecolor=col, edgecolor='none', zorder=2))
txt(150, 50, '广州期货', size=27, color='#A3252A', ha='left', weight='bold')
bg.text(152, 78, 'GUANGZHOU  FUTURES', fontsize=9.5, color='#6B4A3A', ha='left', va='center',
        family='DejaVu Sans', zorder=5)
txt(545, 72, REPORT_TITLE, size=29, color='#A00000', weight='bold')
txt(1058, 107, REPORT_DATE, size=14, color='#A00000', ha='right')

# ---------------- table 1
COLS = [25, 161, 395, 532, 667, 806, 942, 1062]


def col_center(i):
    return (COLS[i] + COLS[i + 1]) / 2


ROW_H = 30
t1_top, t1_head = 128, 189
t1_bot = t1_head + ROW_H * len(T1_ROWS)
box(COLS[0], t1_top, COLS[-1], t1_head, PINK)
box(COLS[0], t1_head, COLS[1], t1_bot, PINK)
for i, h in enumerate(T1_HEAD):
    txt(col_center(i), (t1_top + t1_head) / 2, h, size=16, color=HEAD_RED)
txt(col_center(0), (t1_head + t1_bot) / 2, T1_CAT, size=16, color=HEAD_RED)
for r, row in enumerate(T1_ROWS):
    y = t1_head + ROW_H * r + ROW_H / 2
    txt(COLS[1] + 6, y, row[0], ha='left')
    for c, v in enumerate(row[1:], start=2):
        txt(col_center(c), y, v)
for x in COLS[1:-1]:
    dotted_v(x, t1_top, t1_bot)
dotted_h(t1_head, COLS[0], COLS[-1])
dotted_h(t1_head + ROW_H, COLS[1], COLS[-1])
dotted_h(t1_bot, COLS[0], COLS[-1])

# ---------------- table 2 + commentary
t2_top, t2_head = 259, 321
t2_bot = t2_head + ROW_H * len(T2_ROWS)
ana_bot = 1436
box(COLS[0], t2_top, COLS[-1], t2_head, PINK)
box(COLS[0], t2_head, COLS[1], ana_bot, PINK)
for r in range(len(T2_ROWS)):
    if r % 2 == 1:
        box(COLS[1], t2_head + ROW_H * r, COLS[-1], t2_head + ROW_H * (r + 1), BEIGE)
box(COLS[1], t2_bot, COLS[-1], ana_bot, BEIGE)

for i, h in enumerate(T2_HEAD):
    bg.text(col_center(i), (t2_top + t2_head) / 2, h, fontsize=16, color=HEAD_RED, ha='center',
            va='center', linespacing=1.45, zorder=5)

bounds = []
start = 0
for name, n in T2_CATS:
    y0 = t2_head + ROW_H * start
    txt(col_center(0), y0 + ROW_H * n / 2, name, size=16, color=HEAD_RED)
    start += n
    bounds.append(start)

for r, row in enumerate(T2_ROWS):
    y = t2_head + ROW_H * r + ROW_H / 2
    txt(COLS[1] + 6, y, row[0], ha='left')
    for c, v in enumerate(row[1:], start=2):
        color = NEG_RED if (c in (3, 4) and v.startswith('-')) else 'black'
        txt(col_center(c), y, v, color=color)

for x in COLS[1:-1]:
    dotted_v(x, t2_top, t2_bot)
dotted_v(COLS[1], t2_bot, ana_bot)
dotted_h(t2_head, COLS[0], COLS[-1])
for r in range(1, len(T2_ROWS)):
    dotted_h(t2_head + ROW_H * r, COLS[0] if r in bounds else COLS[1], COLS[-1])
dotted_h(t2_bot, COLS[0], COLS[-1])
bg.plot([COLS[1], COLS[-1]], [1165, 1165], color='black', lw=1.2, zorder=3)
bg.plot([COLS[0], COLS[-1]], [ana_bot, ana_bot], color='black', lw=1.5, zorder=3)

txt(col_center(0), 1210, '研判及操作', size=16, color=HEAD_RED)
txt(col_center(0) - 4, 1238, '建议：', size=16, color=HEAD_RED)

LINE_STEP = 27.7
txt(167, 1027, GLASS_TITLE, size=15.5, ha='left', weight='bold')
for k, line in enumerate(GLASS_LINES):
    txt(167, 1055 + LINE_STEP * k, line, size=15.5, ha='left')
txt(167, 1247, SODA_TITLE, size=15.5, ha='left', weight='bold')
for k, line in enumerate(SODA_LINES):
    txt(167, 1275 + LINE_STEP * k, line, size=15.5, ha='left')


# ---------------- 09 contract charts
HOL = HOLIDAYS
TRADE_DAYS = pd.bdate_range('2022-04-14', '2023-04-12').difference(HOL)


def contract_chart(box_px, price, oi_rows, lmax, lstep, rmax, rstep, title, title_y, unit_l, unit_r, legend_y):
    l, t, r, b = box_px
    ax = fig.add_axes(rect_px(l, t, r, b), zorder=2)
    ax2 = ax.twinx()
    xs, hs = [], []
    for key, vals in zip(MONTHS, oi_rows):
        days = TRADE_DAYS[TRADE_DAYS.strftime('%Y-%m') == key]
        for d, v in zip(days, vals):
            xs.append((d - BASE).days)
            hs.append(v * 1000)
    ax2.bar(xs, hs, width=0.55, color=ORANGE, linewidth=0)
    px, py = zip(*price)
    ax.plot(px, py, color=DARKRED, lw=3.6, solid_joinstyle='round', solid_capstyle='round')
    ax.set_zorder(ax2.get_zorder() + 1)
    ax.patch.set_visible(False)

    ax.set_xlim(-0.8, 364.5)
    ax.set_ylim(0, lmax)
    ax.set_yticks(np.arange(0, lmax + 1, lstep))
    ax2.set_ylim(0, rmax)
    ax2.set_yticks(np.arange(0, rmax + 1, rstep))
    ax2.yaxis.set_minor_locator(MultipleLocator(rstep / 5))
    ax2.yaxis.set_major_formatter(FuncFormatter(lambda v, p: f'{int(v)}'))

    ticks = np.arange(0, 351, 14)
    labels = [(BASE + pd.Timedelta(days=int(d))).strftime('%m-%d') for d in ticks]
    ax.set_xticks(ticks, labels)
    for lab in ax.get_xticklabels():
        lab.set_fontfamily('DejaVu Sans Mono')
    ax.tick_params(axis='x', direction='in', length=4, width=1, labelsize=10.3, labelcolor=GRAY,
                   labelrotation=-90, pad=7)
    ax.tick_params(axis='y', direction='out', length=4, width=1, labelsize=11.5, labelcolor=GRAY, pad=6)
    ax2.tick_params(axis='y', which='major', direction='out', length=4, width=1, labelsize=11.5,
                    labelcolor=GRAY, pad=5)
    ax2.tick_params(axis='y', which='minor', direction='out', length=2.5, width=1)
    for a in (ax, ax2):
        a.spines['top'].set_visible(False)
        for s in ('left', 'right', 'bottom'):
            a.spines[s].set_color('black')
            a.spines[s].set_linewidth(1.3)
    ax.spines['bottom'].set_linewidth(1.8)

    txt(546, title_y, title, size=18, color=GRAY, weight='bold')
    txt(unit_l[0], unit_l[1], '元/吨', size=11.5, color=GRAY)
    txt(unit_r[0], unit_r[1], '张', size=12, color=GRAY)
    fig.legend(handles=[Patch(facecolor=ORANGE, edgecolor='none', label='持仓量（右轴）'),
                        Line2D([], [], color=DARKRED, lw=4.5, label='收盘价')],
               loc='center', bbox_to_anchor=(550 / W, 1 - legend_y / H), ncol=2, frameon=False,
               fontsize=12.5, labelcolor=GRAY, handlelength=2.2, handletextpad=0.3, columnspacing=1.9)


contract_chart((104, 1491, 965, 1689), GLASS09_PRICE, GLASS09_OI, 2500, 500, 1200000, 200000,
               '玻璃09合约交易数据', 1487, (203, 1510), (841, 1515), 1767)
contract_chart((101, 1852, 965, 2042), SODA09_PRICE, SODA09_OI, 3500, 500, 1000000, 200000,
               '纯碱09合约交易数据', 1832, (198, 1855), (847, 1862), 2119)

# ---------------- seasonal charts
SEASON_TICKS = np.arange(0, 361, 15)
SEASON_LABELS = [f'{d.month}/{d.day}' for d in pd.date_range('2023-01-01', periods=25, freq='15D')]

STYLE_STD = {2020: dict(color=BLUE, lw=2.4), 2021: dict(color=ORANGE, lw=2.4),
             2022: dict(color=GOLD, lw=2.4), 2023: dict(color=RED, lw=3.2)}
STYLE_G05 = {2020: dict(color=BLUE, lw=2.2, ls=(0, (3, 2, 1, 2))), 2021: dict(color=ORANGE, lw=1.6),
             2022: dict(color=GOLD, lw=1.6), 2023: dict(color=RED, lw=3.4)}
STYLE_SODA = {2020: dict(color=BLUE, lw=3.0, ls=(0, (2.5, 3.5, 0.4, 3.5)), dash_capstyle='round'),
              2021: dict(color=ORANGE, lw=1.5), 2022: dict(color=GOLD, lw=1.5),
              2023: dict(color=RED, lw=3.6)}


def season_chart(box_px, data, ylim, ystep, yfmt, mode, title, title_xy, legend_xy, colsp,
                 styles=STYLE_STD, unit=None, unit_xy=None, label_off=11, ysize=13.5):
    l, t, r, b = box_px
    ax = fig.add_axes(rect_px(l, t, r, b), zorder=2)
    ax.patch.set_alpha(0)
    for yr in YEARS:
        xs, ys = zip(*data[yr])
        ax.plot(xs, ys, solid_joinstyle='round', zorder=3 + yr - 2020, **styles[yr])
    ax.set_xlim(0, 365)
    ax.set_ylim(*ylim)
    ax.set_yticks(np.arange(ylim[0], ylim[1] + 1, ystep))
    ax.yaxis.set_major_formatter(FuncFormatter(lambda v, p: yfmt.format(v)))
    ax.set_xticks(SEASON_TICKS, SEASON_LABELS)
    for lab in ax.get_xticklabels():
        lab.set_fontfamily('DejaVu Sans Mono')
    ax.spines['right'].set_visible(False)
    ax.spines['left'].set_linewidth(1.4)
    ax.tick_params(axis='y', direction='out', length=4, width=1.2, labelsize=ysize, labelcolor=GRAY, pad=11)

    if mode == 'base':
        ax.spines['top'].set_visible(False)
        ax.spines['bottom'].set_linewidth(1.6)
        ax.tick_params(axis='x', direction='inout', length=7, width=1.3, labelsize=11.2, labelcolor=GRAY,
                       labelrotation=-90, pad=label_off - 3.5)
    elif mode == 'zero':
        ax.spines['bottom'].set_visible(False)
        ax.spines['top'].set_position(('data', 0))
        ax.spines['top'].set_linewidth(1.6)
        ax.tick_params(axis='x', top=True, bottom=False, labeltop=False, labelbottom=True,
                       direction='inout', length=7, width=1.3, labelsize=11.2, labelcolor=GRAY,
                       labelrotation=-90, pad=label_off - 3.5)
    else:  # gray zero line, no x tick marks
        ax.spines['bottom'].set_visible(False)
        ax.spines['top'].set_position(('data', 0))
        ax.spines['top'].set_color('#7F7F7F')
        ax.spines['top'].set_linewidth(2.2)
        ax.tick_params(axis='x', top=False, bottom=False, labeltop=False, labelbottom=True,
                       length=0, labelsize=11.2, labelcolor=GRAY, labelrotation=-90, pad=label_off)

    txt(title_xy[0], title_xy[1], title, size=18, color=GRAY, weight='bold')
    if unit:
        txt(unit_xy[0], unit_xy[1], unit, size=14, color=GRAY)
    handles = [Line2D([], [], label=str(yr), **styles[yr]) for yr in YEARS]
    fig.legend(handles=handles, loc='center', bbox_to_anchor=(legend_xy[0] / W, 1 - legend_xy[1] / H),
               ncol=4, frameon=False, fontsize=14, labelcolor=GRAY, handlelength=2.2,
               handletextpad=0.35, columnspacing=colsp)
    return ax


season_chart((124, 2180, 930, 2329), {2020: G05_2020, 2021: G05_2021, 2022: G05_2022, 2023: G05_2023},
             (-500, 1000), 500, '{:,.2f}', 'zero', '玻璃05合约基差', (548, 2166), (498, 2411), 1.9,
             styles=STYLE_G05, label_off=12)
season_chart((127, 2517, 963, 2655), {2020: S09B_2020, 2021: S09B_2021, 2022: S09B_2022, 2023: S09B_2023},
             (-2000, 2000), 1000, '{:,.2f}', 'gray', '纯碱09合约基差', (558, 2474), (516, 2740), 0.3,
             label_off=8, ysize=12.5)
season_chart((108, 2781, 945, 2986), {2020: GP_2020, 2021: GP_2021, 2022: GP_2022, 2023: GP_2023},
             (0, 3500), 500, '{:,.0f}', 'base', '玻璃全国主流市场价', (568, 2792), (505, 3063), 2.85,
             unit='元/吨', unit_xy=(164, 2803), label_off=10.5)
season_chart((103, 3124, 998, 3271), {2020: GI_2020, 2021: GI_2021, 2022: GI_2022, 2023: GI_2023},
             (0, 15000), 5000, '{:,.0f}', 'base', '玻璃全国厂库库存', (563, 3107), (528, 3367), 0.8,
             unit='万重量箱', unit_xy=(178, 3128), label_off=10.8)
season_chart((97, 3427, 991, 3632), {2020: GC_2020, 2021: GC_2021, 2022: GC_2022, 2023: GC_2023},
             (-500, 2000), 500, '{:,.0f}', 'zero', '玻璃：以煤炭为燃料利润', (580, 3417), (528, 3717), 0.8,
             unit='元/吨', unit_xy=(184, 3433), label_off=11)
season_chart((97, 3775, 973, 3952), {2020: HS_2020, 2021: HS_2021, 2022: HS_2022, 2023: HS_2023},
             (0, 4000), 1000, '{:,.0f}', 'base', '重碱主流市场均价', (567, 3770), (523, 4025), 1.9,
             styles=STYLE_SODA, unit='元/吨', unit_xy=(195, 3783), label_off=12)
season_chart((97, 4089, 996, 4267), {2020: LS_2020, 2021: LS_2021, 2022: LS_2022, 2023: LS_2023},
             (0, 4000), 1000, '{:,.0f}', 'base', '轻碱主流市场均价', (553, 4083), (555, 4337), 1.8,
             styles=STYLE_SODA, unit='元/吨', unit_xy=(179, 4096), label_off=10.8)
season_chart((90, 4384, 980, 4568), {2020: SI_2020, 2021: SI_2021, 2022: SI_2022, 2023: SI_2023},
             (0, 200), 50, '{:,.0f}', 'base', '纯碱全国库存', (548, 4380), (535, 4656), 2.0,
             unit='万吨', unit_xy=(174, 4388), label_off=10.8)
season_chart((89, 4723, 982, 4899), {2020: AP_2020, 2021: AP_2021, 2022: AP_2022, 2023: AP_2023},
             (-500, 2000), 500, '{:,.0f}', 'zero', '氨碱法重碱利润', (570, 4701), (537, 4977), 2.5,
             unit='元/吨', unit_xy=(159, 4717), label_off=10)
season_chart((83, 5071, 977, 5225), {2020: JP_2020, 2021: JP_2021, 2022: JP_2022, 2023: JP_2023},
             (0, 3000), 1000, '{:,.0f}', 'base', '联碱法重碱利润', (574, 5051), (548, 5302), 3.8,
             unit='元/吨', unit_xy=(169, 5068), label_off=10.8)

# ---------------- disclaimer
box(25, 5329, 1062, 5733, BEIGE)
txt(544, 5345, '免责声明', size=17, color=HEAD_RED, weight='bold')
for k, line in enumerate(DISCLAIMER):
    txt(31, 5372 + 26.0 * k, line, size=14.3, color=HEAD_RED, ha='left')
for k, line in enumerate(FOOTER):
    txt(544, 5635 + 26.0 * k, line, size=14)

fig.savefig('out.png', dpi=100)
